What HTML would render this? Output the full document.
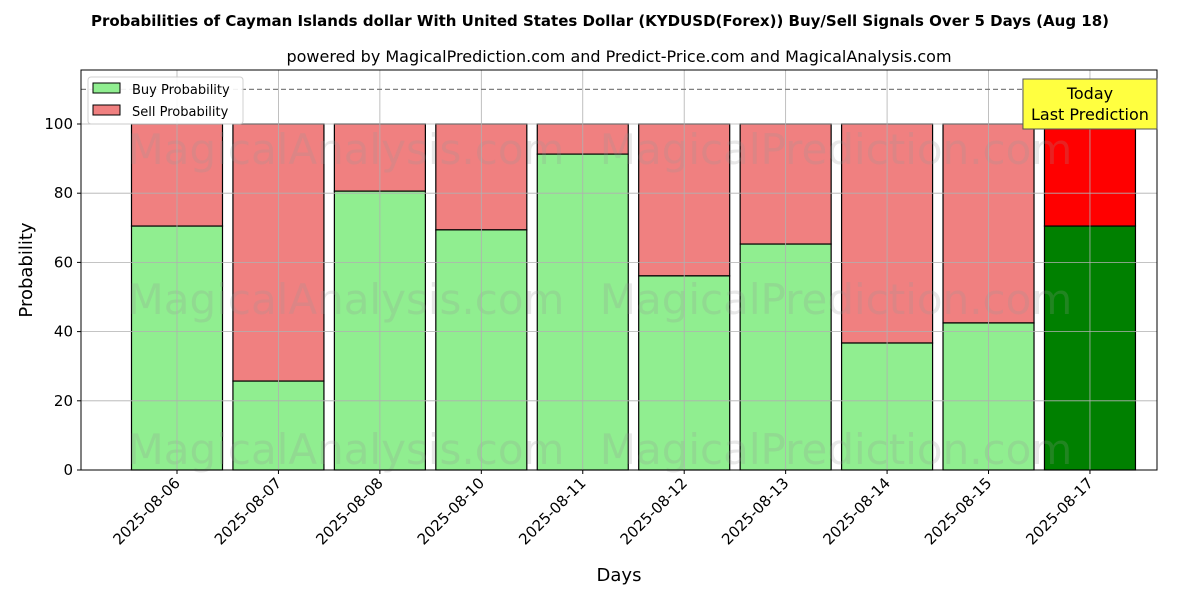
<!DOCTYPE html>
<html><head><meta charset="utf-8"><style>body{margin:0;background:#fff}svg{display:block;font-family:"DejaVu Sans","Liberation Sans",sans-serif}</style></head>
<body>
<svg id="c" width="1200" height="600" xmlns="http://www.w3.org/2000/svg"></svg>
<script>
const categories=["2025-08-06","2025-08-07","2025-08-08","2025-08-10","2025-08-11","2025-08-12","2025-08-13","2025-08-14","2025-08-15","2025-08-17"];
const buyValues=[70.5,25.7,80.6,69.4,91.3,56.1,65.3,36.7,42.5,70.5];
const yTicks=[0,20,40,60,80,100];
const NS="http://www.w3.org/2000/svg";
const svg=document.getElementById('c');
const L=81,R=1157,T=70,B=470;
const y=v=>470-v*3.46;
const x=i=>177+i*101.44;
const bw=91;
function el(t,a,txt){const e=document.createElementNS(NS,t);for(const k in a)e.setAttribute(k,a[k]);if(txt!=null)e.textContent=txt;svg.appendChild(e);return e;}
let e;
e=el('text',{x:600,y:26,'text-anchor':'middle','font-size':15,'font-weight':'bold'},'Probabilities of Cayman Islands dollar With United States Dollar (KYDUSD(Forex)) Buy/Sell Signals Over 5 Days (Aug 18)');

e=el('text',{x:619,y:62,'text-anchor':'middle','font-size':16},'powered by MagicalPrediction.com and Predict-Price.com and MagicalAnalysis.com');

categories.forEach((c,i)=>{
 const last=i===categories.length-1;
 const b=buyValues[i];
 e=el('rect',{x:x(i)-bw/2,y:y(100),width:bw,height:y(b)-y(100),fill:last?'#ff0000':'#f08080',stroke:'#000','stroke-width':1.2});
 
 e=el('rect',{x:x(i)-bw/2,y:y(b),width:bw,height:y(0)-y(b),fill:last?'#008000':'#90ee90',stroke:'#000','stroke-width':1.2});
 
});
// watermarks
[["MagicalAnalysis.com",346,150],["MagicalPrediction.com",836,150],["MagicalAnalysis.com",346,300],["MagicalPrediction.com",836,300],["MagicalAnalysis.com",346,450],["MagicalPrediction.com",836,450]].forEach(w=>{
 e=el('text',{x:w[1],y:w[2]+14,'text-anchor':'middle','font-size':42,fill:'rgba(150,150,150,0.22)'},w[0]);
 
});
// grid
categories.forEach((c,i)=>{e=el('line',{x1:x(i),x2:x(i),y1:T,y2:B,stroke:'#b0b0b0','stroke-width':0.8});});
yTicks.forEach(t=>{e=el('line',{x1:L,x2:R,y1:y(t),y2:y(t),stroke:'#b0b0b0','stroke-width':0.8});});
e=el('line',{x1:L,x2:R,y1:y(110),y2:y(110),stroke:'#808080','stroke-width':1.2,'stroke-dasharray':'5,3'});

e=el('rect',{x:L,y:T,width:R-L,height:B-T,fill:'none',stroke:'#000','stroke-width':1});

yTicks.forEach(t=>{
 e=el('line',{x1:L-4,x2:L,y1:y(t),y2:y(t),stroke:'#000'});
 e=el('text',{x:L-8,y:y(t)+5,'text-anchor':'end','font-size':15},t);
});
categories.forEach((c,i)=>{
 e=el('line',{x1:x(i),x2:x(i),y1:B,y2:B+4,stroke:'#000'});
 e=el('text',{x:x(i)+4,y:B+14,'text-anchor':'end','font-size':15,transform:`rotate(-45 ${x(i)+4} ${B+14})`},c);
 
});
e=el('text',{x:619,y:581,'text-anchor':'middle','font-size':18},'Days');
e=el('text',{x:32,y:270,'text-anchor':'middle','font-size':18,transform:'rotate(-90 32 270)'},'Probability');
// legend
e=el('rect',{x:88,y:77,width:155,height:47,fill:'#fff',stroke:'#ccc',rx:3,opacity:0.9});
e=el('rect',{x:93,y:83,width:27,height:10,fill:'#90ee90',stroke:'#000'});
e=el('text',{x:132,y:94,'font-size':13},'Buy Probability');
e=el('rect',{x:93,y:105,width:27,height:10,fill:'#f08080',stroke:'#000'});
e=el('text',{x:132,y:116,'font-size':13},'Sell Probability');
// annotation
const ax=x(categories.length-1);
e=el('rect',{x:ax-67,y:79,width:134,height:50,fill:'#ffff40',stroke:'#555'});
e=el('text',{x:ax,y:99,'text-anchor':'middle','font-size':16},'Today');
e=el('text',{x:ax,y:120,'text-anchor':'middle','font-size':16},'Last Prediction');
</script>
</body></html>
